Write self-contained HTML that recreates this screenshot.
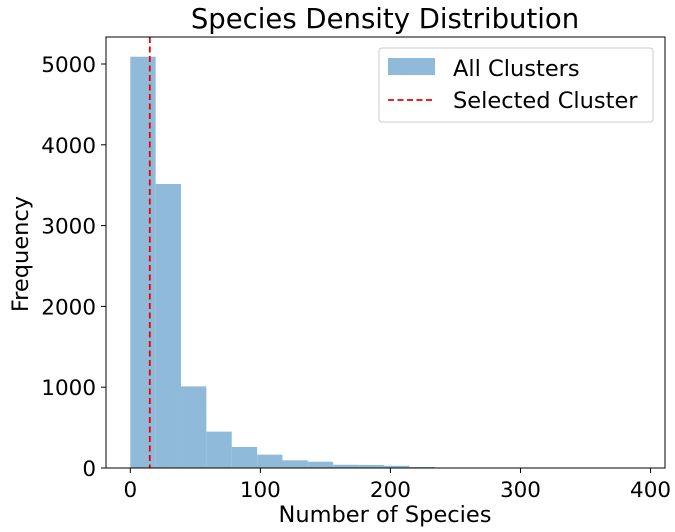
<!DOCTYPE html>
<html><head><meta charset="utf-8"><style>
body{margin:0;background:#fff;}
svg{font-family:"DejaVu Sans","Liberation Sans",sans-serif;}
</style></head><body>
<svg id="chart" width="675" height="527" viewBox="0 0 675 527">
<text x="385" y="28" font-size="27.5" text-anchor="middle">Species Density Distribution</text>
<g id="bars"></g>
<g id="xticks"></g>
<g id="yticks"></g>
<line id="sel" stroke="#e00" stroke-width="1.8" stroke-dasharray="6,3.5"/>
<rect x="106" y="37" width="559" height="431" fill="none" stroke="#000" stroke-width="1"/>
<text x="385" y="522" font-size="22.5" text-anchor="middle">Number of Species</text>
<text x="28" y="254" font-size="22.5" text-anchor="middle" transform="rotate(-90 28 254)">Frequency</text>
<g>
<rect x="379" y="48" width="274" height="74" rx="3" fill="#fff" stroke="#ccc"/>
<rect x="388" y="58" width="47" height="17" fill="#8fbad9"/>
<text x="453" y="76" font-size="22.5">All Clusters</text>
<line x1="388" y1="100" x2="435" y2="100" stroke="#e00" stroke-width="1.8" stroke-dasharray="6,3.5"/>
<text x="453" y="108" font-size="22.5">Selected Cluster</text>
</g>
</svg>
<script>
const binStart = 0;
const binWidth = 19.5;
const counts = [5090, 3515, 1010, 450, 260, 165, 95, 78, 40, 38, 28, 12, 3, 2, 1, 1, 0, 0, 0, 1];
const xTicks = [0, 100, 200, 300, 400];
const yTicks = [0, 1000, 2000, 3000, 4000, 5000];
const selectedValue = 15;

const NS = "http://www.w3.org/2000/svg";
const sx = v => 130.3 + v * 1.3006;
const sy = v => 468 - v * 0.0808;
const bars = document.getElementById('bars');
counts.forEach((c, i) => {
  const r = document.createElementNS(NS, 'rect');
  const x0 = sx(binStart + i * binWidth), x1 = sx(binStart + (i + 1) * binWidth);
  r.setAttribute('x', x0); r.setAttribute('width', x1 - x0);
  r.setAttribute('y', sy(c)); r.setAttribute('height', 468 - sy(c));
  r.setAttribute('fill', '#8fbad9');
  
  
  bars.appendChild(r);
});
const xg = document.getElementById('xticks');
xTicks.forEach(t => {
  const l = document.createElementNS(NS, 'line');
  l.setAttribute('x1', sx(t)); l.setAttribute('x2', sx(t));
  l.setAttribute('y1', 468); l.setAttribute('y2', 473); l.setAttribute('stroke', '#000');
  
  
  xg.appendChild(l);
  const tx = document.createElementNS(NS, 'text');
  tx.setAttribute('x', sx(t)); tx.setAttribute('y', 497);
  tx.setAttribute('font-size', '21.5'); tx.setAttribute('text-anchor', 'middle');
  tx.textContent = t;
  
  
  xg.appendChild(tx);
});
const yg = document.getElementById('yticks');
yTicks.forEach(t => {
  const l = document.createElementNS(NS, 'line');
  l.setAttribute('x1', 101); l.setAttribute('x2', 106);
  l.setAttribute('y1', sy(t)); l.setAttribute('y2', sy(t)); l.setAttribute('stroke', '#000');
  
  
  yg.appendChild(l);
  const tx = document.createElementNS(NS, 'text');
  tx.setAttribute('x', 96); tx.setAttribute('y', sy(t) + 8);
  tx.setAttribute('font-size', '21.5'); tx.setAttribute('text-anchor', 'end');
  tx.textContent = t;
  
  
  yg.appendChild(tx);
});
const sel = document.getElementById('sel');
sel.setAttribute('x1', sx(selectedValue)); sel.setAttribute('x2', sx(selectedValue));
sel.setAttribute('y1', 37); sel.setAttribute('y2', 468);
</script>
</body></html>
